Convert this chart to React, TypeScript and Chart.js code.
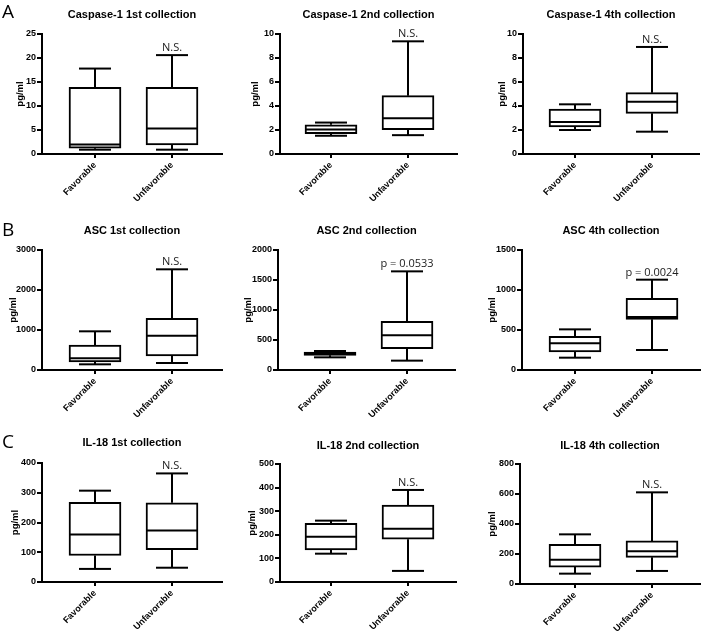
import React, { useEffect, useRef } from 'react';
import { Chart, registerables } from 'chart.js';
Chart.register(...registerables);

// ---------- data ----------
const categories = ['Favorable', 'Unfavorable'];
const panelTitles = [
  'Caspase-1 1st collection', 'Caspase-1 2nd collection', 'Caspase-1 4th collection',
  'ASC 1st collection', 'ASC 2nd collection', 'ASC 4th collection',
  'IL-18 1st collection', 'IL-18 2nd collection', 'IL-18 4th collection',
];
const rowLetters = ['A', 'B', 'C'];
const yAxisTitle = 'pg/ml';
const yMaxValues = [25, 10, 10, 3000, 2000, 1500, 400, 500, 800];
const yStepValues = [5, 2, 2, 1000, 500, 500, 100, 100, 200];

const favorableMin = [0.9, 1.52, 2.0, 142, 211, 154, 44, 120, 69];
const favorableQ1 = [1.2, 1.69, 2.25, 200, 244, 225, 89, 136, 113];
const favorableMedian = [2.0, 2.04, 2.67, 292, 267, 333, 160, 192, 162];
const favorableQ3 = [13.9, 2.43, 3.75, 625, 300, 421, 268, 249, 264];
const favorableMax = [17.8, 2.62, 4.14, 967, 317, 508, 307, 260, 331];

const unfavorableMin = [0.9, 1.57, 1.86, 175, 156, 250, 48, 47, 87];
const unfavorableQ1 = [1.9, 2.02, 3.39, 350, 356, 633, 109, 181, 178];
const unfavorableMedian = [5.3, 2.98, 4.36, 858, 578, 663, 173, 226, 218];
const unfavorableQ3 = [13.9, 4.86, 5.11, 1292, 811, 896, 266, 326, 287];
const unfavorableMax = [20.6, 9.39, 8.92, 2517, 1644, 1129, 365, 390, 611];

const significance = ['N.S.', 'N.S.', 'N.S.', 'N.S.', 'p = 0.0533', 'p = 0.0024', 'N.S.', 'N.S.', 'N.S.'];

// ---------- layout ----------
const cellLeft = [0, 235, 470];
const cellTop = [0, 210, 420];
const cellWidth = [235, 235, 236];
const cellHeight = [210, 210, 213];
// chart-area geometry inside each cell
const geo = [
  { l: 42, t: 34, b: 154, r: 222, ty: 15, yt: 20, fx: 53 },
  { l: 45, t: 34, b: 154, r: 222, ty: 15, yt: 20, fx: 51 },
  { l: 53, t: 34, b: 154, r: 229, ty: 15, yt: 32, fx: 52 },
  { l: 42, t: 40, b: 160, r: 222, ty: 21, yt: 13, fx: 53 },
  { l: 43, t: 40, b: 160, r: 220, ty: 21, yt: 13, fx: 52 },
  { l: 52, t: 40, b: 160, r: 230, ty: 21, yt: 22, fx: 53 },
  { l: 42, t: 43, b: 162, r: 222, ty: 23, yt: 15, fx: 53 },
  { l: 45, t: 44, b: 162, r: 221, ty: 26, yt: 17, fx: 51 },
  { l: 50, t: 44, b: 164, r: 230, ty: 26, yt: 22, fx: 55 },
];
const SPACING = 77;
const BOX_W = 52;
const CAP_HALF = 16;
const SANS = '"Liberation Sans", Arial, sans-serif';

function Panel({ idx }: { idx: number }) {
  const ref = useRef<HTMLCanvasElement>(null);
  const row = Math.floor(idx / 3);
  const col = idx % 3;
  const W = cellWidth[col];
  const H = cellHeight[row];
  useEffect(() => {
    const g = geo[idx];
    const w = g.r - g.l;
    const xMin = -g.fx / SPACING;
    const xMax = xMin + w / SPACING;
    const stats = [
      [favorableMin[idx], favorableQ1[idx], favorableMedian[idx], favorableQ3[idx], favorableMax[idx]],
      [unfavorableMin[idx], unfavorableQ1[idx], unfavorableMedian[idx], unfavorableQ3[idx], unfavorableMax[idx]],
    ];
    const boxPlugin = {
      id: 'boxWhiskers',
      afterDatasetsDraw(chart: any) {
        const { ctx } = chart;
        const xs = chart.scales.x;
        const ys = chart.scales.y;
        const meta = chart.getDatasetMeta(0);
        ctx.save();
        ctx.strokeStyle = '#000';
        ctx.lineWidth = 2;
        const line = (x1: number, y1: number, x2: number, y2: number) => {
          ctx.beginPath();
          ctx.moveTo(x1, y1);
          ctx.lineTo(x2, y2);
          ctx.stroke();
        };
        stats.forEach((s, i) => {
          const cx = xs.getPixelForValue(i);
          const el = meta.data[i];
          const half = (el && el.width ? el.width : BOX_W) / 2;
          const [mn, q1, md, q3, mx] = s.map((v) => ys.getPixelForValue(v));
          line(cx - half, md, cx + half, md);
          line(cx, q3, cx, mx);
          line(cx - CAP_HALF, mx, cx + CAP_HALF, mx);
          line(cx, q1, cx, mn);
          line(cx - CAP_HALF, mn, cx + CAP_HALF, mn);
        });
        ctx.fillStyle = '#222';
        ctx.font = '11px "Open Sans", sans-serif';
        ctx.textAlign = 'center';
        ctx.textBaseline = 'alphabetic';
        ctx.fillText(significance[idx], xs.getPixelForValue(1), ys.getPixelForValue(stats[1][4]) - 4);
        ctx.restore();
      },
    };
    const tickFont = { family: SANS, size: 9, weight: 'bold' as const };
    const chart = new Chart(ref.current as HTMLCanvasElement, {
      type: 'bar',
      data: {
        datasets: [
          {
            data: [
              { x: 0, y: [favorableQ1[idx], favorableQ3[idx]] },
              { x: 1, y: [unfavorableQ1[idx], unfavorableQ3[idx]] },
            ] as any,
            backgroundColor: '#fff',
            borderColor: '#000',
            borderWidth: 2,
            borderSkipped: false,
            barThickness: BOX_W,
          },
        ],
      },
      options: {
        responsive: false,
        animation: false,
        devicePixelRatio: 1,
        layout: { padding: { left: 0, top: 0, right: W - g.r, bottom: 0 } },
        plugins: {
          legend: { display: false },
          tooltip: { enabled: false },
          title: {
            display: true,
            text: panelTitles[idx],
            fullSize: false,
            color: '#000',
            font: { family: SANS, size: 11, weight: 'bold', lineHeight: 1.2 },
            padding: { top: g.ty - 6.6, bottom: g.t - g.ty - 6.6 },
          },
        },
        scales: {
          x: {
            type: 'linear',
            min: xMin,
            max: xMax,
            offset: false,
            afterBuildTicks: (s: any) => {
              s.ticks = [{ value: 0 }, { value: 1 }];
            },
            afterFit: (s: any) => {
              s.height = H - g.b;
            },
            ticks: {
              autoSkip: false,
              minRotation: 45,
              maxRotation: 45,
              padding: 2,
              color: '#000',
              font: tickFont,
              callback: (v: any) => categories[Math.round(Number(v))] ?? '',
            },
            grid: { offset: false, drawOnChartArea: false, drawTicks: true, tickLength: 4, color: '#000', lineWidth: 2 },
            border: { display: true, color: '#000', width: 2 },
          },
          y: {
            min: 0,
            max: yMaxValues[idx],
            afterFit: (s: any) => {
              s.width = g.l;
            },
            ticks: {
              stepSize: yStepValues[idx],
              padding: 1,
              color: '#000',
              font: tickFont,
              callback: (v: any) => String(v),
            },
            grid: { drawOnChartArea: false, drawTicks: true, tickLength: 5, color: '#000', lineWidth: 2 },
            border: { display: true, color: '#000', width: 2 },
            title: {
              display: true,
              text: yAxisTitle,
              color: '#000',
              font: { family: SANS, size: 9.5, weight: 'bold', lineHeight: 1.2 },
              padding: { top: g.yt - 5.7, bottom: 0 },
            },
          },
        },
      } as any,
      plugins: [boxPlugin],
    });
    return () => chart.destroy();
  }, [idx]);
  return (
    <canvas
      ref={ref}
      width={W}
      height={H}
      style={{ position: 'absolute', left: cellLeft[col], top: cellTop[row], width: W, height: H, display: 'block' }}
    />
  );
}

export default function App() {
  return (
    <div style={{ position: 'absolute', left: 0, top: 0, width: 706, height: 633, background: '#fff', overflow: 'hidden' }}>
      {panelTitles.map((_, i) => (
        <Panel key={i} idx={i} />
      ))}
      {rowLetters.map((letter, r) => (
        <div
          key={letter}
          style={{
            position: 'absolute',
            left: 2,
            top: [2, 220, 432][r],
            fontFamily: '"Open Sans", sans-serif',
            fontSize: 19,
            lineHeight: '19px',
            color: '#000',
          }}
        >
          {letter}
        </div>
      ))}
    </div>
  );
}
